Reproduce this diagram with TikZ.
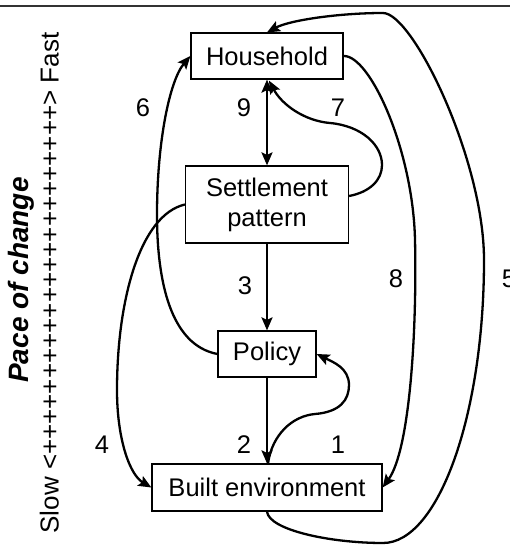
\documentclass[tikz,border=0pt]{standalone}
\usepackage{fontspec}
\setmainfont{Liberation Sans}
\usetikzlibrary{arrows.meta}
\newcommand\mysz{\fontsize{25.5}{30}\selectfont}
\begin{document}
\begin{tikzpicture}[x=1pt,y=-1pt,
  >={Stealth[length=13pt,width=11pt,inset=2.5pt]},
  box/.style={draw, line width=1.2pt, inner sep=0pt, align=center, font=\mysz},
  conn/.style={line width=2.3pt},
  lbl/.style={inner sep=0pt, font=\mysz}]
\useasboundingbox (0,0) rectangle (510,545);
\draw[line width=1.5pt, black!80] (0,6) -- (510,6);
% boxes
\node[box, minimum width=152pt, minimum height=46pt] (H) at (267,56) {Household};
\node[box, minimum width=163pt, minimum height=77pt] (S) at (267,204.5) {Settlement\\pattern};
\node[box, minimum width=98pt, minimum height=46pt] (P) at (267,354) {Policy};
\node[box, minimum width=230pt, minimum height=47pt] (B) at (267,487.5) {Built environment};
% straight connectors
\draw[conn, <->] (H) -- (S);
\draw[conn, ->] (S) -- (P);
\draw[conn, ->] (P) -- (B);
% 7
\coordinate (s7) at ([yshift=8.5pt]S.east);
\coordinate (e7) at ([xshift=2pt,yshift=-1pt]H.south);
\draw[conn, ->] (s7) .. controls (370,192) and (382,180) .. (382,165)
  .. controls (382,145) and (362,126) .. (330,123)
  .. controls (305,121) and (282,105) .. (e7);
% 1
\coordinate (s1) at ([xshift=1pt]B.north);
\draw[conn, ->] (s1) .. controls (272,435) and (292,416) .. (315,414)
  .. controls (340,412) and (349,400) .. (349,385)
  .. controls (349,368) and (333,362) .. (P.east);
% 6
\draw[conn, ->] (P.west) .. controls (170,345) and (157,280) .. (157,215)
  .. controls (157,140) and (170,80) .. (H.west);
% 4
\draw[conn, ->] (S.west) .. controls (140,215) and (117,300) .. (117,390)
  .. controls (117,440) and (130,475) .. (B.west);
% 8
\draw[conn, ->] (H.east) .. controls (370,55) and (413,150) .. (415,240)
  .. controls (417,330) and (410,450) .. (B.east);
% 5
\draw[conn, ->] (B.south) .. controls (269,530) and (330,543) .. (383,543)
  .. controls (438,543) and (484,416) .. (484,260)
  .. controls (484,160) and (413,13) .. (383,13)
  .. controls (340,13) and (290,20) .. (H.north);
% labels
\node[lbl] (l6) at (143,108) {6};
\node[lbl] (l9) at (244,108) {9};
\node[lbl] (l7) at (338,108) {7};
\node[lbl] (l3) at (245,286) {3};
\node[lbl] (l8) at (396,279) {8};
\node[lbl] (l5) at (509,279) {5};
\node[lbl] (l4) at (102,445) {4};
\node[lbl] (l2) at (244,445) {2};
\node[lbl] (l1) at (338,445) {1};
% side texts
\node[rotate=90, anchor=base, inner sep=0pt, font=\fontsize{28}{30}\selectfont\bfseries\itshape] (pace) at (28.5,280) {Pace of change};
\node[rotate=90, anchor=base, inner sep=0pt, font=\fontsize{26}{30}\selectfont] (scale) at (58.5,283) {Slow <+++++++++++++++++++++++> Fast};
\end{tikzpicture}
\end{document}
